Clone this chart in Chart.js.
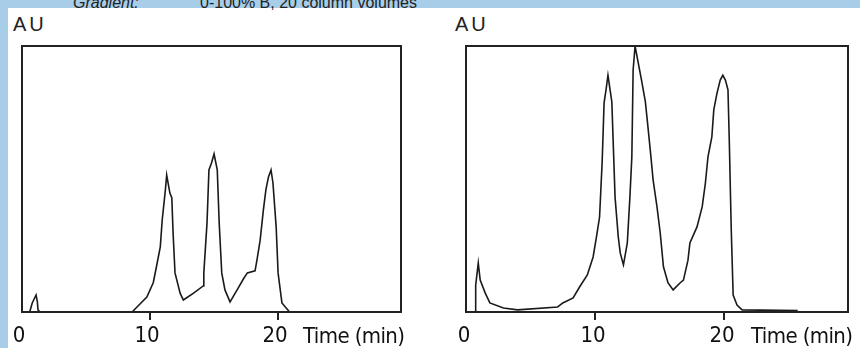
<!DOCTYPE html>
<html>
<head>
<meta charset="utf-8">
<script src="https://cdn.jsdelivr.net/npm/chart.js@4.4.1/dist/chart.umd.min.js"></script>
<style>
  html, body { margin: 0; padding: 0; }
  body { width: 860px; height: 348px; overflow: hidden; background: #a7cde8; position: relative;
         font-family: 'Liberation Sans', Arial, sans-serif; }
  #white { position: absolute; left: 8px; top: 8px; right: 0; bottom: 0; background: #fff; }
  .hdr { position: absolute; top: -5px; font-size: 16px; color: #222; white-space: nowrap; line-height: 16px; }
  .au { position: absolute; top: 12px; font-size: 20px; letter-spacing: 3px; color: #222; line-height: 24px; }
  .xt { position: absolute; top: 323px; font-family: 'DejaVu Sans Condensed', 'Liberation Sans', sans-serif;
        font-size: 22px; color: #111; line-height: 26px; white-space: nowrap; letter-spacing: -0.6px; }
  canvas { position: absolute; top: 0; }
</style>
</head>
<body>
<div id="white"></div>
<div class="hdr" style="left:73px; font-style: italic;">Gradient:</div>
<div class="hdr" style="left:200px;">0-100% B, 20 column volumes</div>
<div class="au" style="left:13px;">AU</div>
<div class="au" style="left:455px;">AU</div>
<canvas id="c1" width="430" height="348" style="left:0px;"></canvas>
<canvas id="c2" width="430" height="348" style="left:430px;"></canvas>
<div class="xt" style="left:303px;">Time (min)</div>
<div class="xt" style="left:751px;">Time (min)</div>
<script>
// ---- data ----
const tickValues = [0, 10, 20];

const leftTime = [0, 0.6, 0.8, 1.1, 1.2, 1.25, 1.4, 8.6, 9.0, 9.75, 10.25, 10.5, 10.8, 10.95, 11.2, 11.3,
  11.55, 11.7, 11.8, 11.95, 12.35, 12.6, 13.4, 14.15, 14.2, 14.45, 14.6, 14.8, 15.0, 15.25, 15.4, 15.6,
  15.85, 16.25, 16.8, 17.3, 17.6, 18.2, 18.35, 18.6, 18.85, 19.05, 19.25, 19.45, 19.6, 19.85, 20.0,
  20.3, 20.7, 20.9];
const leftAU = [0, 0, 3.4, 6.4, 3.8, 0.8, 0, 0, 2, 5.6, 11, 17, 24.5, 34.6, 46, 51.5,
  44.7, 43, 29.7, 14.7, 7.1, 4.5, 7.1, 9.8, 14.7, 33.5, 53.4, 56, 59.4, 53.4, 33.5, 14.7,
  8.3, 3.8, 8.3, 12.5, 14.7, 15.5, 19.5, 27, 38.3, 46, 50.8, 53.4, 48.5, 32, 14.7,
  3.4, 1.1, 0];

const rightTime = [0, 0.7, 0.75, 0.95, 1.1, 1.5, 1.85, 2.9, 4.0, 7.1, 7.5, 8.3, 8.8, 9.4, 9.85, 10.1,
  10.35, 10.55, 10.7, 10.85, 11.0, 11.3, 11.4, 11.55, 11.8, 11.95, 12.2, 12.5, 12.7, 12.85, 12.95, 13.1,
  13.35, 13.6, 13.9, 14.1, 14.3, 14.5, 14.8, 15.05, 15.3, 15.65, 16.05, 16.6, 16.85, 17.2, 17.35, 17.9,
  18.3, 18.55, 18.75, 19.05, 19.2, 19.45, 19.7, 19.9, 20.1, 20.3, 20.4, 20.55, 20.7, 21.0, 21.4, 25.7];
const rightAU = [0, 0, 10, 18.4, 12, 7, 3.4, 1.5, 0.8, 1.9, 3.4, 5.3, 9.4, 13.9, 20.7, 28,
  35.7, 56.4, 78.6, 83.5, 89, 79, 64.7, 43.2, 28.2, 22.2, 17.7, 26, 43.2, 58.3, 91, 100,
  93.6, 87.2, 79, 69.5, 59.8, 49.6, 39.5, 29.7, 17, 11, 8.3, 11, 12, 19.5, 26, 32,
  39.5, 48.5, 58.3, 65.8, 76, 82.3, 87.2, 89, 87.2, 83.5, 64.7, 31.6, 6.4, 2.6, 0.8, 0.5];

// ---- chart construction ----
const framePlugin = {
  id: 'frame',
  afterDatasetsDraw(chart) {
    const a = chart.chartArea, ctx = chart.ctx;
    ctx.save();
    ctx.strokeStyle = '#222';
    ctx.lineWidth = 2;
    ctx.strokeRect(a.left, a.top, a.right - a.left, a.bottom - a.top);
    ctx.restore();
  }
};

function makeChart(id, times, values, padLeft, padRight, labelOffset) {
  return new Chart(document.getElementById(id), {
    type: 'line',
    data: {
      datasets: [{
        data: times.map((t, i) => ({ x: t, y: values[i] })),
        borderColor: '#1a1a1a',
        borderWidth: 1.6,
        pointRadius: 0,
        tension: 0,
        fill: false
      }]
    },
    options: {
      responsive: false,
      devicePixelRatio: 1,
      animation: false,
      layout: { padding: { left: padLeft, right: padRight, top: 46, bottom: 0 } },
      plugins: { legend: { display: false }, tooltip: { enabled: false } },
      scales: {
        x: {
          type: 'linear', min: 0, max: 29.6,
          afterBuildTicks: s => { s.ticks = tickValues.map(v => ({ value: v })); },
          afterFit: s => { s.height = 36; },
          ticks: {
            font: { family: "'DejaVu Sans Condensed', 'Liberation Sans', sans-serif", size: 22 },
            color: '#111', padding: 3, maxRotation: 0, autoSkip: false, labelOffset: labelOffset,
            callback: v => String(v)
          },
          grid: {
            display: true, drawOnChartArea: false, drawTicks: true, tickLength: 8, lineWidth: 2,
            color: c => (c.tick && c.tick.value === 0) ? 'rgba(0,0,0,0)' : '#222'
          },
          border: { display: false }
        },
        y: { display: false, min: 0, max: 100 }
      }
    },
    plugins: [framePlugin]
  });
}

makeChart('c1', leftTime, leftAU, 22, 29, -3);
makeChart('c2', rightTime, rightAU, 36, 12, -2);
</script>
</body>
</html>
